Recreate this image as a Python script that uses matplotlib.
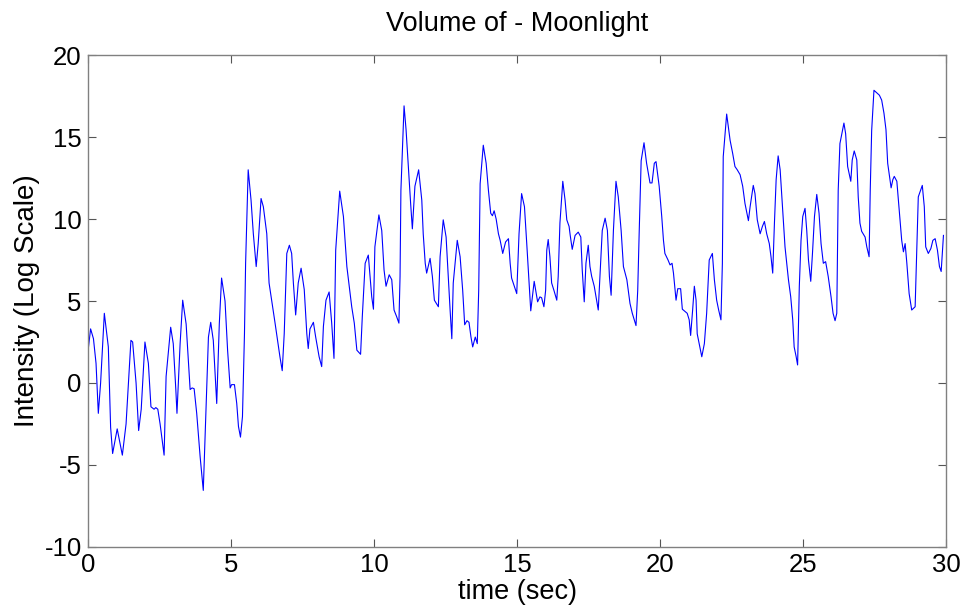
import matplotlib
matplotlib.use("Agg")
import matplotlib.pyplot as plt

plt.rcParams['font.family'] = ['Liberation Sans', 'DejaVu Sans']
plt.rcParams['axes.unicode_minus'] = False

# Intensity trace (seconds, log-scale intensity)
time_sec = [
    0.01, 0.09, 0.19, 0.28, 0.36, 0.44, 0.57, 0.71, 0.79, 0.86, 1.02, 1.20, 1.33, 1.50, 1.56,
    1.68, 1.77, 1.86, 1.99, 2.11, 2.20, 2.31, 2.37, 2.44, 2.52, 2.66, 2.73, 2.89, 2.98, 3.07,
    3.11, 3.22, 3.31, 3.43, 3.57, 3.64, 3.71, 3.80, 3.92, 4.03, 4.13, 4.21, 4.29, 4.38, 4.50,
    4.59, 4.67, 4.79, 4.88, 4.97, 5.02, 5.12, 5.20, 5.26, 5.33, 5.40, 5.47, 5.51, 5.60, 5.70,
    5.78, 5.88, 5.95, 6.05, 6.13, 6.25, 6.33, 6.54, 6.71, 6.79, 6.86, 6.95, 7.04, 7.12, 7.18,
    7.26, 7.35, 7.45, 7.56, 7.65, 7.70, 7.76, 7.88, 7.96, 8.08, 8.17, 8.23, 8.32, 8.43, 8.52,
    8.60, 8.66, 8.80, 8.93, 9.05, 9.22, 9.31, 9.40, 9.53, 9.59, 9.69, 9.80, 9.92, 9.98, 10.03,
    10.17, 10.27, 10.35, 10.42, 10.53, 10.62, 10.70, 10.79, 10.87, 10.91, 10.94, 11.05, 11.12,
    11.20, 11.28, 11.34, 11.43, 11.56, 11.67, 11.72, 11.79, 11.84, 11.96, 12.04, 12.11, 12.25,
    12.31, 12.42, 12.52, 12.60, 12.66, 12.72, 12.77, 12.91, 13.01, 13.10, 13.17, 13.25, 13.32,
    13.39, 13.45, 13.54, 13.61, 13.66, 13.71, 13.82, 13.92, 14.00, 14.08, 14.14, 14.20, 14.27,
    14.35, 14.41, 14.50, 14.60, 14.70, 14.76, 14.81, 14.99, 15.07, 15.16, 15.26, 15.34, 15.42,
    15.48, 15.60, 15.69, 15.72, 15.80, 15.86, 15.94, 16.00, 16.04, 16.09, 16.15, 16.21, 16.29,
    16.39, 16.44, 16.50, 16.60, 16.68, 16.74, 16.82, 16.86, 16.93, 17.03, 17.14, 17.23, 17.28,
    17.35, 17.41, 17.49, 17.55, 17.61, 17.70, 17.84, 17.90, 17.98, 18.08, 18.16, 18.23, 18.29,
    18.37, 18.46, 18.54, 18.64, 18.72, 18.84, 18.95, 19.03, 19.16, 19.22, 19.27, 19.34, 19.44,
    19.53, 19.65, 19.72, 19.80, 19.86, 19.97, 20.06, 20.12, 20.17, 20.28, 20.35, 20.42, 20.47,
    20.56, 20.62, 20.72, 20.78, 20.95, 21.02, 21.07, 21.14, 21.20, 21.26, 21.30, 21.37, 21.46,
    21.55, 21.63, 21.72, 21.83, 21.90, 21.98, 22.05, 22.13, 22.18, 22.21, 22.33, 22.39, 22.45,
    22.54, 22.62, 22.70, 22.80, 22.89, 22.97, 23.09, 23.15, 23.26, 23.32, 23.40, 23.50, 23.58,
    23.65, 23.73, 23.82, 23.88, 23.94, 24.00, 24.06, 24.13, 24.20, 24.28, 24.37, 24.49, 24.57,
    24.64, 24.69, 24.76, 24.81, 24.87, 24.93, 24.99, 25.07, 25.13, 25.19, 25.27, 25.33, 25.40,
    25.48, 25.56, 25.63, 25.71, 25.79, 25.88, 25.98, 26.05, 26.12, 26.18, 26.20, 26.23, 26.29,
    26.43, 26.49, 26.56, 26.67, 26.72, 26.79, 26.88, 26.93, 26.99, 27.05, 27.17, 27.23, 27.31,
    27.35, 27.40, 27.48, 27.67, 27.75, 27.83, 27.90, 27.96, 28.08, 28.14, 28.19, 28.28, 28.37,
    28.45, 28.51, 28.57, 28.63, 28.71, 28.80, 28.92, 28.98, 29.03, 29.17, 29.24, 29.29, 29.38,
    29.47, 29.54, 29.62, 29.70, 29.77, 29.83, 29.87, 29.91,
]
intensity = [
    2.1, 3.3, 2.7, 1.2, -1.85, 0.0, 4.25, 2.2, -2.7, -4.3, -2.8, -4.4, -2.5, 2.6, 2.5,
    0.0, -2.9, -1.6, 2.5, 1.2, -1.45, -1.6, -1.5, -1.6, -2.5, -4.4, 0.4, 3.4, 2.4, -0.4,
    -1.85, 2.4, 5.05, 3.6, -0.4, -0.3, -0.35, -1.85, -4.5, -6.55, -1.45, 2.8, 3.7, 2.6, -1.25,
    3.6, 6.4, 5.0, 2.0, -0.3, -0.1, -0.1, -1.25, -2.65, -3.3, -2.05, 3.0, 7.3, 13.0, 11.15,
    9.1, 7.1, 8.5, 11.25, 10.75, 9.1, 6.1, 3.65, 1.6, 0.75, 3.0, 7.9, 8.4, 7.9, 6.1,
    4.15, 6.1, 7.0, 5.7, 3.0, 2.1, 3.3, 3.7, 2.8, 1.6, 1.0, 3.45, 5.05, 5.55, 3.65,
    1.5, 8.1, 11.7, 10.15, 7.1, 4.65, 3.65, 2.0, 1.75, 4.05, 7.3, 7.8, 5.25, 4.5, 8.3,
    10.25, 9.3, 6.9, 5.9, 6.6, 6.3, 4.45, 4.05, 3.65, 6.5, 11.75, 16.9, 15.45,
    13.2, 10.95, 9.4, 12.0, 13.0, 11.15, 9.1, 7.3, 6.7, 7.6, 6.5, 5.05, 4.65,
    7.7, 9.95, 8.9, 6.3, 4.45, 2.7, 6.1, 8.7, 7.7, 5.65, 3.55, 3.8, 3.7,
    2.8, 2.2, 2.8, 2.4, 5.65, 12.15, 14.5, 13.4, 11.75, 10.35, 10.2, 10.5, 10.0,
    9.1, 8.7, 7.9, 8.6, 8.8, 7.3, 6.4, 5.45, 9.1, 11.55, 10.75, 8.5, 6.1,
    4.4, 6.2, 5.25, 4.95, 5.25, 5.2, 4.65, 5.65, 8.1, 8.75, 7.7, 6.1, 5.65,
    5.05, 6.5, 9.75, 12.3, 11.15, 9.95, 9.55, 9.0, 8.15, 9.0, 9.2, 8.9, 6.9,
    4.95, 7.3, 8.4, 7.1, 6.5, 5.9, 4.45, 6.5, 9.3, 10.05, 9.3, 6.5, 5.35,
    9.3, 12.3, 11.35, 9.3, 7.1, 6.3, 4.85, 4.25, 3.5, 5.65, 9.1, 13.55, 14.65,
    13.4, 12.2, 12.2, 13.4, 13.5, 12.0, 10.15, 8.7, 7.9, 7.5, 7.2, 7.3, 6.7,
    5.05, 5.75, 5.75, 4.5, 4.25, 3.85, 2.9, 4.45, 5.9, 5.05, 3.0, 2.4, 1.6,
    2.4, 4.25, 7.5, 7.9, 6.3, 5.05, 4.45, 3.85, 7.3, 13.8, 16.4, 15.6, 14.8,
    14.0, 13.2, 13.0, 12.7, 12.0, 10.95, 9.9, 10.75, 12.05, 11.55, 9.95, 9.1, 9.55,
    9.85, 9.1, 8.5, 7.7, 6.7, 9.75, 12.4, 13.85, 13.0, 10.75, 8.3, 6.3, 5.25,
    3.85, 2.2, 1.6, 1.1, 5.9, 8.7, 10.15, 10.65, 9.3, 7.5, 6.2, 7.9, 10.15,
    11.5, 10.35, 8.5, 7.3, 7.4, 6.5, 5.25, 4.25, 3.8, 4.25, 7.3, 11.75, 14.6,
    15.85, 15.2, 13.2, 12.3, 13.6, 14.15, 13.6, 11.35, 9.75, 9.25, 8.9, 8.3, 7.7,
    11.75, 15.4, 17.85, 17.55, 17.25, 16.45, 15.45, 13.4, 11.9, 12.4, 12.6, 12.3, 10.35,
    8.7, 8.0, 8.5, 7.3, 5.45, 4.45, 4.65, 8.3, 11.35, 12.05, 10.75, 8.3, 7.9,
    8.2, 8.7, 8.8, 8.1, 7.1, 6.8, 7.9, 9.0,
]

x_ticks = [0, 5, 10, 15, 20, 25, 30]
y_ticks = [-10, -5, 0, 5, 10, 15, 20]

fig = plt.figure(figsize=(9.62, 6.06), dpi=100)
ax = fig.add_axes([0.0915, 0.0974, 0.8919, 0.8118])

ax.plot(time_sec, intensity, color='#0000ff', linewidth=0.8)

ax.set_xlim(0, 30)
ax.set_ylim(-10, 20)
ax.set_xticks(x_ticks)
ax.set_yticks(y_ticks)
ax.tick_params(direction='in', top=True, right=True, length=6, width=0.8,
               color='#555555', labelsize=18.5, pad=4.5)
for sp in ax.spines.values():
    sp.set_color('#808080')
    sp.set_linewidth(1.0)

ax.set_title('Volume of - Moonlight', fontsize=19.5, pad=17)
ax.set_xlabel('time (sec)', fontsize=19.5, labelpad=1)
ax.set_ylabel('Intensity (Log Scale)', fontsize=20, labelpad=3)

fig.savefig('out.png', dpi=100)
